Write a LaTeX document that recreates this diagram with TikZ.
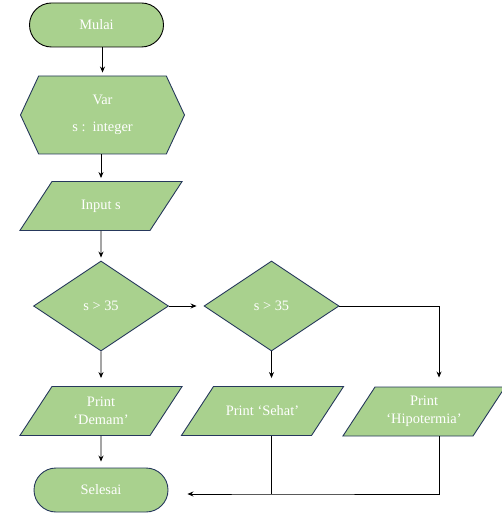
\documentclass[tikz,border=0pt]{standalone}
\usepackage{fontspec}
\setmainfont{Liberation Serif}
\definecolor{fcgreen}{RGB}{169,209,142}
\definecolor{fcnavy}{RGB}{38,56,92}
\usetikzlibrary{arrows.meta,positioning,shapes.geometric,shapes.symbols}
\newcommand{\iotext}[1]{\parbox[c][31pt][c]{90pt}{\centering #1}}

\begin{document}
\begin{tikzpicture}[x=1pt,y=-1pt,
  box/.style={draw=fcnavy,fill=fcgreen,text=white,font=\fontsize{14.4}{17.5}\selectfont,line width=0.9pt,inner sep=0pt,align=center},
  term/.style={box,rounded corners=22pt,minimum width=134pt,minimum height=44pt},
  io/.style={box,trapezium,trapezium left angle=56.8,trapezium right angle=123.2,inner xsep=4pt,inner ysep=9pt},
  decision/.style={box,diamond,minimum width=135pt,minimum height=90pt},
  arr/.style={-{Stealth[length=6pt,width=5pt]},line width=0.8pt}]
  \useasboundingbox (0,0) rectangle (501,518);
  \node[term,draw=black] (mulai) at (96.5,25) {Mulai};
  \node[box,signal,signal to=east and west,signal pointer angle=130,minimum width=164pt,minimum height=78pt,font=\fontsize{14.4}{27}\selectfont] (var) at (102.5,115) {Var\\s :\ \ integer};
  \node[io] (input) at (101,206) {\iotext{Input s}};
  \node[decision] (d1) at (101,306) {s > 35};
  \node[decision] (d2) at (271.5,306) {s > 35};
  \node[io] (demam) at (101,411) {\iotext{Print\\‘Demam’}};
  \node[io] (sehat) at (262.5,411) {\iotext{Print ‘Sehat’}};
  \node[io] (hipo) at (424,411.5) {\iotext{Print\\‘Hipotermia’}};
  \node[term] (selesai) at (101,490) {Selesai};
  \coordinate (merge) at (271.5,494);
  % arrows
  \draw[arr,shorten >=3pt] (mulai.south -| var.north) -- (var.north);
  \draw[arr,shorten >=3pt] (var.south -| input.north) -- (input.north);
  \draw[arr,shorten >=3pt] (input.south) -- (d1.north);
  \draw[arr,shorten >=7pt] (d1.east) -- (d2.west);
  \draw[arr,shorten >=8pt] (d1.south) -- (demam.north);
  \draw[arr,shorten >=8pt] (d2.south) -- (d2.south |- sehat.north);
  \draw[arr,shorten >=9pt] (d2.east) -| ([xshift=15pt]hipo.north);
  \draw[arr,shorten >=6pt] (demam.south) -- (selesai.north);
  \draw[line width=0.8pt] (sehat.south -| merge) -- (merge);
  \draw[arr,shorten >=19pt] ([xshift=15pt]hipo.south) |- (merge) -- (merge -| selesai.east);
\end{tikzpicture}
\end{document}
